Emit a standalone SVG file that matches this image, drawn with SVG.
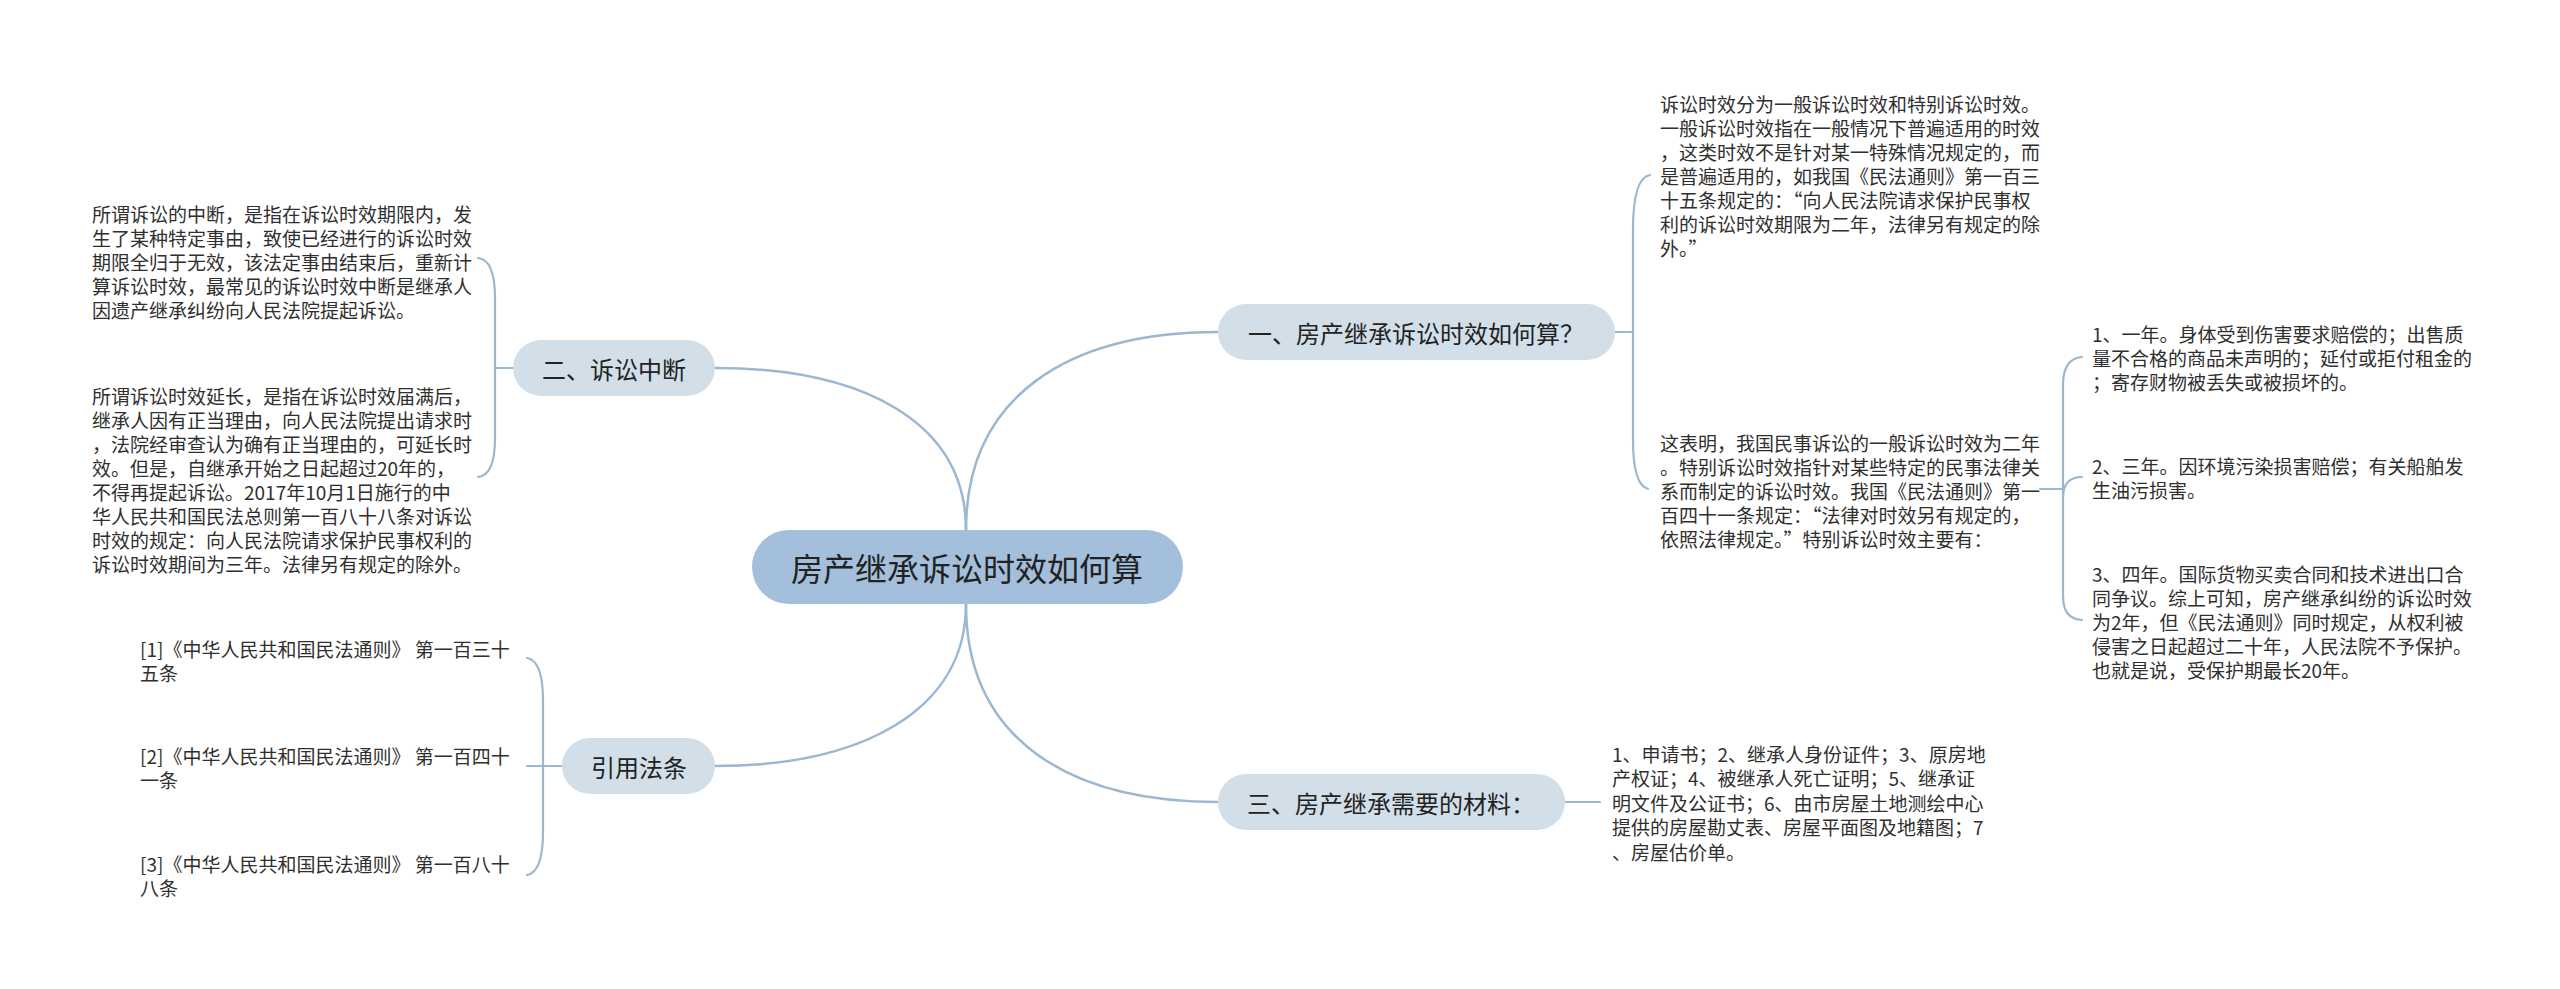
<svg xmlns="http://www.w3.org/2000/svg" width="2560" height="989" viewBox="0 0 2560 989">
<style>
.ln{fill:none;stroke:#9bb7d1;stroke-width:2.5;stroke-linecap:round}
.br{fill:none;stroke:#9bb7d1;stroke-width:2.2;stroke-linecap:round}
.root{fill:#a3bfdb}
.sub{fill:#d2dfe9}
.t{font-family:"Noto Sans CJK SC","Microsoft YaHei",sans-serif;fill:#2f2f2f;dominant-baseline:central}
.rt{font-size:32px;text-anchor:middle;fill:#222}
.st{font-size:24px;text-anchor:middle;fill:#222}
.lt{font-size:19px}
</style>
<rect width="2560" height="989" fill="#ffffff"/>
<g id="connectors">
<path class="ln" d="M966,530 C966,395 1070,332 1218,332"/>
<path class="ln" d="M966,604 C966,740 1070,802 1218,802"/>
<path class="ln" d="M966,530 C966,420 860,368 715,368"/>
<path class="ln" d="M966,604 C966,712 860,766 715,766"/>
<path class="br" d="M1615,332 H1633"/>
<path class="br" d="M1650,175 C1637,177 1633,200 1633,230 L1633,440 C1633,468 1637,486 1648,489"/>
<path class="br" d="M2040,489 H2063"/>
<path class="br" d="M2082,357 C2069,358 2063,368 2063,385 L2063,595 C2063,612 2069,619 2082,620"/>
<path class="br" d="M2063,498 C2063,484 2069,477 2082,477"/>
<path class="br" d="M1565,802 H1600"/>
<path class="br" d="M513,368 H495"/>
<path class="br" d="M478,258 C489,259 495,272 495,298 L495,438 C495,463 489,476 478,477"/>
<path class="br" d="M562,766 H527"/>
<path class="br" d="M527,658 C538,660 543,675 543,700 L543,832 C543,858 538,873 527,875"/>
</g>
<g id="root">
<rect class="root" x="752" y="530" width="431" height="74" rx="37"/>
<text class="t rt" x="967" y="567">房产继承诉讼时效如何算</text>
</g>
<g id="n1">
<rect class="sub" x="1218" y="304" width="397" height="56" rx="28"/>
<text class="t st" x="1416" y="332">一、房产继承诉讼时效如何算？</text>
</g>
<g id="n1-1">
<text class="t lt" x="1660"><tspan x="1660" y="103">诉讼时效分为一般诉讼时效和特别诉讼时效。</tspan><tspan x="1660" y="127">一般诉讼时效指在一般情况下普遍适用的时效</tspan><tspan x="1660" y="151">，这类时效不是针对某一特殊情况规定的，而</tspan><tspan x="1660" y="175">是普遍适用的，如我国《民法通则》第一百三</tspan><tspan x="1660" y="199">十五条规定的：“向人民法院请求保护民事权</tspan><tspan x="1660" y="223">利的诉讼时效期限为二年，法律另有规定的除</tspan><tspan x="1660" y="247">外。”</tspan></text>
</g>
<g id="n1-2">
<text class="t lt" x="1660"><tspan x="1660" y="442">这表明，我国民事诉讼的一般诉讼时效为二年</tspan><tspan x="1660" y="466">。特别诉讼时效指针对某些特定的民事法律关</tspan><tspan x="1660" y="490">系而制定的诉讼时效。我国《民法通则》第一</tspan><tspan x="1660" y="514">百四十一条规定：“法律对时效另有规定的，</tspan><tspan x="1660" y="538">依照法律规定。”特别诉讼时效主要有：</tspan></text>
</g>
<g id="n1-2-1">
<text class="t lt" x="2092"><tspan x="2092" y="333">1、一年。身体受到伤害要求赔偿的；出售质</tspan><tspan x="2092" y="357">量不合格的商品未声明的；延付或拒付租金的</tspan><tspan x="2092" y="381">；寄存财物被丢失或被损坏的。</tspan></text>
</g>
<g id="n1-2-2">
<text class="t lt" x="2092"><tspan x="2092" y="465">2、三年。因环境污染损害赔偿；有关船舶发</tspan><tspan x="2092" y="489">生油污损害。</tspan></text>
</g>
<g id="n1-2-3">
<text class="t lt" x="2092"><tspan x="2092" y="573">3、四年。国际货物买卖合同和技术进出口合</tspan><tspan x="2092" y="597">同争议。综上可知，房产继承纠纷的诉讼时效</tspan><tspan x="2092" y="621">为2年，但《民法通则》同时规定，从权利被</tspan><tspan x="2092" y="645">侵害之日起超过二十年，人民法院不予保护。</tspan><tspan x="2092" y="669">也就是说，受保护期最长20年。</tspan></text>
</g>
<g id="n3">
<rect class="sub" x="1218" y="774" width="347" height="56" rx="28"/>
<text class="t st" x="1391" y="802">三、房产继承需要的材料：</text>
</g>
<g id="n3-1">
<text class="t lt" x="1612"><tspan x="1612" y="753">1、申请书；2、继承人身份证件；3、原房地</tspan><tspan x="1612" y="777">产权证；4、被继承人死亡证明；5、继承证</tspan><tspan x="1612" y="802">明文件及公证书；6、由市房屋土地测绘中心</tspan><tspan x="1612" y="826">提供的房屋勘丈表、房屋平面图及地籍图；7</tspan><tspan x="1612" y="851">、房屋估价单。</tspan></text>
</g>
<g id="n2">
<rect class="sub" x="513" y="340" width="202" height="56" rx="28"/>
<text class="t st" x="614" y="368">二、诉讼中断</text>
</g>
<g id="n2-1">
<text class="t lt" x="92"><tspan x="92" y="213">所谓诉讼的中断，是指在诉讼时效期限内，发</tspan><tspan x="92" y="237">生了某种特定事由，致使已经进行的诉讼时效</tspan><tspan x="92" y="261">期限全归于无效，该法定事由结束后，重新计</tspan><tspan x="92" y="285">算诉讼时效，最常见的诉讼时效中断是继承人</tspan><tspan x="92" y="309">因遗产继承纠纷向人民法院提起诉讼。</tspan></text>
</g>
<g id="n2-2">
<text class="t lt" x="92"><tspan x="92" y="395">所谓诉讼时效延长，是指在诉讼时效届满后，</tspan><tspan x="92" y="419">继承人因有正当理由，向人民法院提出请求时</tspan><tspan x="92" y="443">，法院经审查认为确有正当理由的，可延长时</tspan><tspan x="92" y="467">效。但是，自继承开始之日起超过20年的，</tspan><tspan x="92" y="491">不得再提起诉讼。2017年10月1日施行的中</tspan><tspan x="92" y="515">华人民共和国民法总则第一百八十八条对诉讼</tspan><tspan x="92" y="539">时效的规定：向人民法院请求保护民事权利的</tspan><tspan x="92" y="563">诉讼时效期间为三年。法律另有规定的除外。</tspan></text>
</g>
<g id="n4">
<rect class="sub" x="562" y="738" width="153" height="56" rx="28"/>
<text class="t st" x="639" y="766">引用法条</text>
</g>
<g id="n4-1">
<text class="t lt" x="140"><tspan x="140" y="648">[1]《中华人民共和国民法通则》 第一百三十</tspan><tspan x="140" y="672">五条</tspan></text>
</g>
<g id="n4-2">
<text class="t lt" x="140"><tspan x="140" y="755">[2]《中华人民共和国民法通则》 第一百四十</tspan><tspan x="140" y="779">一条</tspan></text>
</g>
<g id="n4-3">
<text class="t lt" x="140"><tspan x="140" y="863">[3]《中华人民共和国民法通则》 第一百八十</tspan><tspan x="140" y="887">八条</tspan></text>
</g>
</svg>
